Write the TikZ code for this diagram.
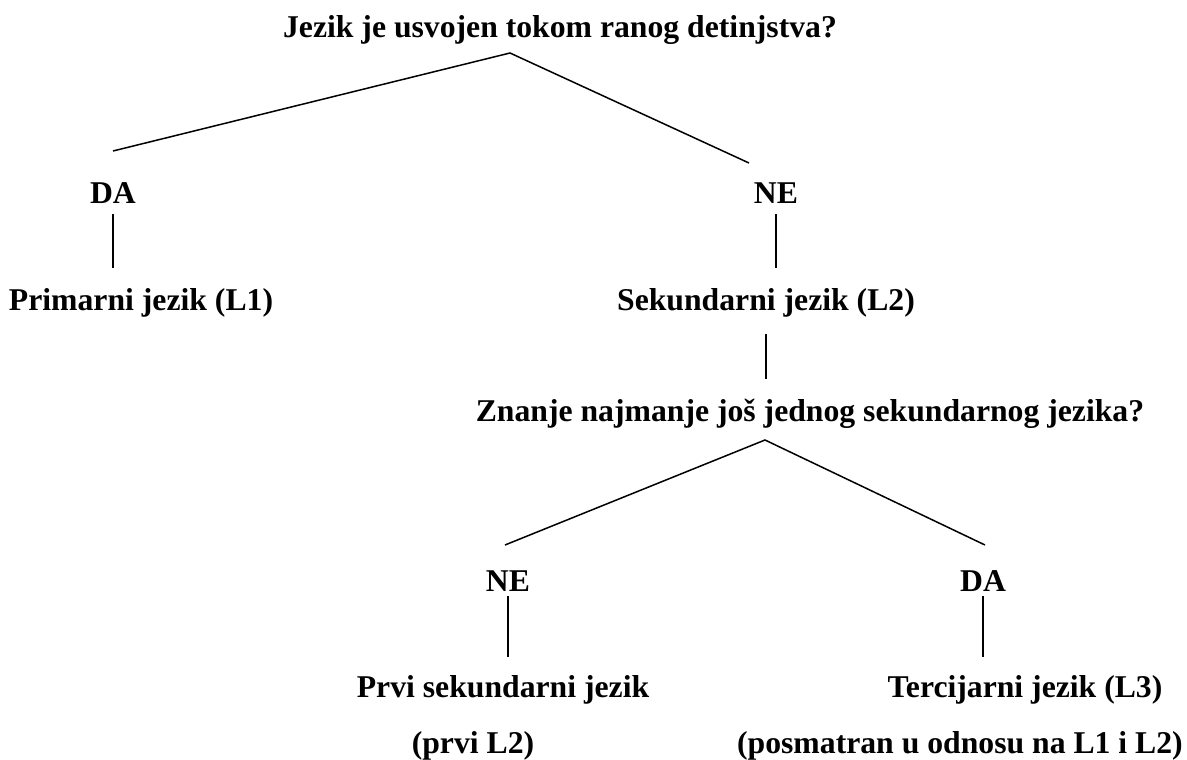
\documentclass[tikz,border=0pt]{standalone}
\usepackage{fontspec}
\setmainfont{Liberation Serif}
\usetikzlibrary{positioning}

\begin{document}
\begin{tikzpicture}[x=1pt, y=-1pt,
    lbl/.style={font=\fontsize{31.7}{36}\selectfont\bfseries, inner sep=0pt, anchor=base},
    edge/.style={line width=1.5pt}]
  \useasboundingbox (0,0) rectangle (1187,760);
  % first question and its answers
  \node[lbl] (q1) at (560,38) {Jezik je usvojen tokom ranog detinjstva?};
  \coordinate (t1) at (510,53);
  \coordinate (l1) at (113,151);
  \coordinate (r1) at (749,163);
  \node[lbl] (da1) at (113,203) {DA};
  \node[lbl] (ne1) at (776,203) {NE};
  \node[lbl] (l1txt) at (141,310) {Primarni jezik (L1)};
  \node[lbl] (l2txt) at (766,310) {Sekundarni jezik (L2)};
  % second question and its answers
  \node[lbl] (q2) at (810,421) {Znanje najmanje još jednog sekundarnog jezika?};
  \coordinate (t2) at (765,440);
  \coordinate (l2) at (505,545);
  \coordinate (r2) at (985,545);
  \node[lbl] (ne2) at (508,591) {NE};
  \node[lbl] (da2) at (983,591) {DA};
  \node[lbl] (prvi) at (503,697) {Prvi sekundarni jezik};
  \node[lbl] (prvib) at (473,753) {(prvi L2)};
  \node[lbl] (terc) at (1025,697) {Tercijarni jezik (L3)};
  \node[lbl, anchor=base east] (tercb) at (1183,753) {(posmatran u odnosu na L1 i L2)};
  % connectors
  \draw[edge] (l1) -- (t1) -- (r1);
  \draw[edge] ([yshift=-11pt]da1.south) -- ++(0,54);
  \draw[edge] ([yshift=-11pt]ne1.south) -- ++(0,54);
  \draw[edge] ([yshift=-17pt]l2txt.south) -- ++(0,45);
  \draw[edge] (l2) -- (t2) -- (r2);
  \draw[edge] ([yshift=-5pt]ne2.south) -- ++(0,61);
  \draw[edge] ([yshift=-5pt]da2.south) -- ++(0,61);
\end{tikzpicture}
\end{document}
